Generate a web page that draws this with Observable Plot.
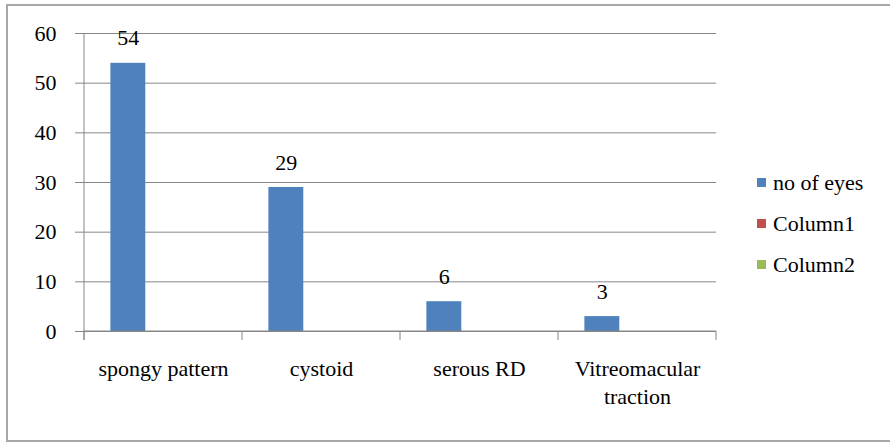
<!DOCTYPE html>
<html><head><meta charset="utf-8">
<script src="https://cdn.jsdelivr.net/npm/d3@7"></script>
<script src="https://cdn.jsdelivr.net/npm/@observablehq/plot@0.6"></script>
<style>
body{margin:0;background:#fff;}
#wrap{position:relative;width:890px;height:443px;overflow:hidden;font-family:"Liberation Serif","Tinos","DejaVu Serif",serif;}
#border{position:absolute;left:6px;top:4px;width:890px;height:438px;border:2px solid #a8a8a8;box-sizing:border-box;}
#chart{position:absolute;left:0;top:0;}
#chart svg text{font-family:"Liberation Serif","Tinos","DejaVu Serif",serif;}
#legend{position:absolute;left:757px;top:162px;font-size:22px;color:#000;}
.item{display:flex;align-items:center;height:41px;white-space:nowrap;}
.sw{width:9px;height:9px;margin-right:7px;flex:none;}
</style></head>
<body>
<div id="wrap"><div id="border"></div><div id="chart"></div><div id="legend"></div></div>
<script>
const categories = ["spongy pattern", "cystoid", "serous RD", "Vitreomacular traction"];
const categoryLabels = ["spongy pattern", "cystoid", "serous RD", "Vitreomacular\ntraction"];
const noOfEyes = [54, 29, 6, 3];
const series = ["no of eyes", "Column1", "Column2"];
const seriesColors = ["#4F81BD", "#C0504D", "#9BBB59"];
const yTicks = [0, 10, 20, 30, 40, 50, 60];

const rows = categories.map((c, i) => ({category: c, value: noOfEyes[i], label: categoryLabels[i]}));

const W = 890, H = 443, ml = 83, mr = 174, mt = 33, mb = 112;
const bw = (W - ml - mr) / categories.length;
const unit = bw / 4.5; // 3 series + 150% gap
const insetLeft = 0.75 * unit, insetRight = bw - 1.75 * unit;
const dxLabel = 1.25 * unit - bw / 2;
const gray = "#868686";
const serif = "'Liberation Serif', 'Tinos', 'DejaVu Serif', serif";

const chart = Plot.plot({
  width: W, height: H,
  marginLeft: ml, marginRight: mr, marginTop: mt, marginBottom: mb,
  style: {fontFamily: serif, fontSize: "22px", background: "transparent", color: "#000", overflow: "visible"},
  x: {domain: categories, padding: 0, axis: null},
  y: {domain: [0, 60], axis: null},
  marks: [
    Plot.gridY(yTicks, {stroke: gray, strokeOpacity: 1}),
    Plot.axisY(yTicks, {tickSize: 8, tickPadding: 19, stroke: gray, strokeOpacity: 1, fontSize: 22, label: null, tickFormat: d => String(d)}),
    Plot.barY(rows, {x: "category", y: "value", fill: seriesColors[0], insetLeft, insetRight}),
    Plot.text(rows, {x: "category", y: "value", text: d => String(d.value), dx: dxLabel, dy: -25, fontSize: 22, fill: "#000"}),
    Plot.text(rows, {x: "category", text: "label", frameAnchor: "bottom", lineAnchor: "top", dy: 25, lineHeight: 1.27, fontSize: 22, fill: "#000"}),
    (index, scales) => {
      const x = scales.x, y = scales.y;
      const step = x.bandwidth ? x.bandwidth() : bw;
      const g = d3.create("svg:g").attr("stroke", gray).attr("fill", "none");
      g.append("line").attr("x1", x(categories[0])).attr("x2", x(categories[0])).attr("y1", y(60)).attr("y2", y(0) + 9);
      g.append("line").attr("x1", x(categories[0])).attr("x2", x(categories[categories.length - 1]) + step).attr("y1", y(0)).attr("y2", y(0));
      const edges = categories.map(c => x(c)).concat([x(categories[categories.length - 1]) + step]);
      for (const e of edges) g.append("line").attr("x1", e).attr("x2", e).attr("y1", y(0)).attr("y2", y(0) + 9);
      return g.node();
    }
  ]
});
document.getElementById("chart").appendChild(chart);

const legend = document.getElementById("legend");
series.forEach((s, i) => {
  const item = document.createElement("div");
  item.className = "item";
  const sw = document.createElement("span");
  sw.className = "sw";
  sw.style.background = seriesColors[i];
  const t = document.createElement("span");
  t.textContent = s;
  item.appendChild(sw); item.appendChild(t);
  legend.appendChild(item);
});
</script>
</body></html>
